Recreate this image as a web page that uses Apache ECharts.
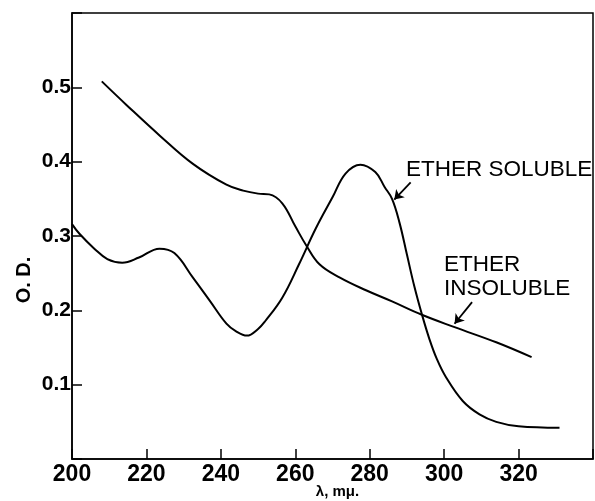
<!DOCTYPE html>
<html>
<head>
<meta charset="utf-8">
<script src="https://cdn.jsdelivr.net/npm/echarts@6/dist/echarts.min.js"></script>
<style>
  html, body { margin: 0; padding: 0; background: #fff; }
  #chart { width: 595px; height: 501px; }
</style>
</head>
<body>
<div id="chart"></div>
<script>
// wavelength (m\u03bc) and optical density
var solubleX = [200, 202, 206, 209.5, 213.5, 218, 223.5, 227.5, 232.5, 237, 241.5, 244, 247, 250, 252, 256.5, 261, 265.5, 270, 273.5, 277.5, 281.5, 284, 286, 288, 290, 292, 294, 296, 298, 300.5, 305, 309.5, 314, 320, 331];
var solubleY = [0.316, 0.303, 0.283, 0.269, 0.264, 0.271, 0.283, 0.277, 0.244, 0.213, 0.182, 0.172, 0.166, 0.175, 0.186, 0.217, 0.262, 0.310, 0.352, 0.384, 0.396, 0.386, 0.366, 0.350, 0.318, 0.275, 0.232, 0.195, 0.162, 0.135, 0.110, 0.078, 0.060, 0.050, 0.044, 0.042];

var insolubleX = [208, 214.7, 223.6, 232.5, 241.5, 246, 250, 253, 256.5, 260, 263, 266.5, 272, 279, 286, 294, 303, 314, 323.5];
var insolubleY = [0.508, 0.476, 0.435, 0.397, 0.369, 0.361, 0.357, 0.356, 0.344, 0.313, 0.287, 0.262, 0.244, 0.227, 0.212, 0.194, 0.177, 0.157, 0.137];

var xTickLabels = ['200', '220', '240', '260', '280', '300', '320'];
var yTickLabels = ['0.1', '0.2', '0.3', '0.4', '0.5'];

// arrows: [fromX, fromY, toX, toY]
var solubleArrow = [291.0, 0.372, 286.6, 0.349];
var insolubleArrow = [307.5, 0.211, 302.8, 0.182];

function pairs(xs, ys) {
    var out = [];
    for (var i = 0; i < xs.length; i++) out.push([xs[i], ys[i]]);
    return out;
}

function arrowLine(a) {
    return [[{ coord: [a[0], a[1]] }, { coord: [a[2], a[3]] }]];
}

var chart = echarts.init(document.getElementById('chart'));

var option = {
    backgroundColor: '#fff',
    animation: false,
    grid: {
        left: 72, right: 2, top: 13, bottom: 42,
        outerBoundsMode: 'none',
        containLabel: false,
        show: true, borderColor: '#000', borderWidth: 1.5
    },
    xAxis: {
        type: 'value',
        min: 200, max: 340, interval: 20,
        name: '\u03bb, m\u03bc.',
        nameLocation: 'middle',
        nameGap: 25,
        nameMoveOverlap: false,
        nameTextStyle: { fontFamily: 'Liberation Sans', fontSize: 15, fontWeight: 'bold', color: '#000', padding: [0, 0, 0, 10] },
        axisLine: { lineStyle: { color: '#000', width: 1.5 } },
        axisTick: { inside: true, length: 10, lineStyle: { color: '#000', width: 1.5 } },
        splitLine: { show: false },
        axisLabel: {
            margin: 4,
            fontFamily: 'Liberation Sans', fontSize: 23, fontWeight: 'bold', color: '#000',
            formatter: function (v) {
                var s = String(Math.round(v));
                return xTickLabels.indexOf(s) >= 0 ? s : '';
            }
        }
    },
    yAxis: {
        type: 'value',
        min: 0, max: 0.6, interval: 0.1,
        axisLine: { lineStyle: { color: '#000', width: 1.5 } },
        axisTick: { inside: true, length: 10, lineStyle: { color: '#000', width: 1.5 } },
        splitLine: { show: false },
        axisLabel: {
            margin: 1,
            fontFamily: 'Liberation Sans', fontSize: 21, fontWeight: 'bold', color: '#000',
            formatter: function (v) {
                var s = (Math.round(v * 10) / 10).toFixed(1);
                return yTickLabels.indexOf(s) >= 0 ? s : '';
            }
        }
    },
    graphic: [
        {
            type: 'text', x: 24, y: 280, rotation: Math.PI / 2,
            style: { text: 'O. D.', fontFamily: 'Liberation Sans', fontSize: 20, fontWeight: 'bold', fill: '#000', align: 'center', verticalAlign: 'middle' }
        },
        {
            type: 'text', x: 406, y: 170,
            style: { text: 'ETHER SOLUBLE', fontFamily: 'Liberation Sans', fontSize: 22.5, fill: '#000', align: 'left', verticalAlign: 'middle' }
        },
        {
            type: 'text', x: 444, y: 265,
            style: { text: 'ETHER', fontFamily: 'Liberation Sans', fontSize: 22.5, fill: '#000', align: 'left', verticalAlign: 'middle' }
        },
        {
            type: 'text', x: 444, y: 289,
            style: { text: 'INSOLUBLE', fontFamily: 'Liberation Sans', fontSize: 22.5, fill: '#000', align: 'left', verticalAlign: 'middle' }
        }
    ],
    series: [
        {
            name: 'Ether soluble',
            type: 'line',
            data: pairs(solubleX, solubleY),
            smooth: 0.4,
            showSymbol: false,
            lineStyle: { color: '#000', width: 2 },
            markLine: {
                silent: true,
                symbol: ['none', 'arrow'],
                symbolSize: 9,
                label: { show: false },
                lineStyle: { color: '#000', width: 1.8, type: 'solid' },
                data: arrowLine(solubleArrow)
            }
        },
        {
            name: 'Ether insoluble',
            type: 'line',
            data: pairs(insolubleX, insolubleY),
            smooth: 0.4,
            showSymbol: false,
            lineStyle: { color: '#000', width: 2 },
            markLine: {
                silent: true,
                symbol: ['none', 'arrow'],
                symbolSize: 9,
                label: { show: false },
                lineStyle: { color: '#000', width: 1.8, type: 'solid' },
                data: arrowLine(insolubleArrow)
            }
        }
    ]
};

chart.setOption(option);
</script>
</body>
</html>
